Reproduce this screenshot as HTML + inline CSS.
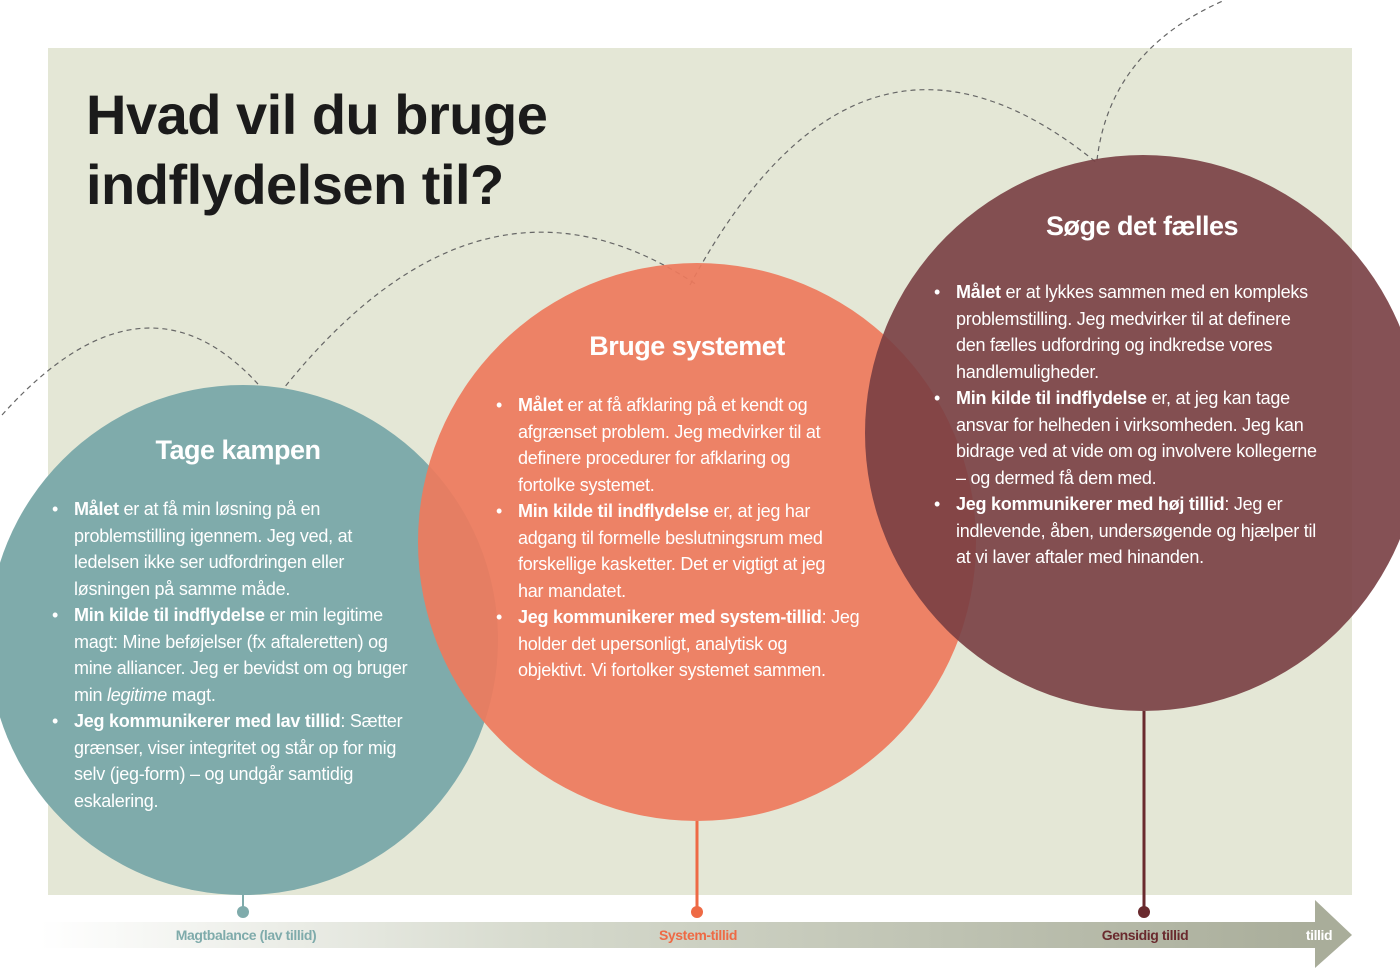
<!DOCTYPE html>
<html><head><meta charset="utf-8"><style>
body{margin:0;width:1400px;height:969px;background:#fff;position:relative;overflow:hidden;font-family:"Liberation Sans",sans-serif}
.bg{position:absolute;left:48px;top:48px;width:1304px;height:847px;background:#e4e7d6}
.c{position:absolute;border-radius:50%}
.t{position:absolute;color:#fff;font-size:18px;letter-spacing:-0.25px;white-space:nowrap;line-height:26.5px}
.t div{height:26.5px}
.t b{font-weight:bold}
.b{position:relative}
.b:before{content:"•";position:absolute;left:-22px}
.h{position:absolute;color:#fff;font-weight:bold;font-size:27px;letter-spacing:-0.5px;white-space:nowrap;transform:translateX(-50%)}
.title{position:absolute;left:86px;top:80px;font-size:56px;font-weight:bold;color:#1b1b1b;line-height:70px;letter-spacing:-0.5px}
.lbl{position:absolute;top:927px;font-size:14px;font-weight:bold;letter-spacing:-0.4px;transform:translateX(-50%)}
</style></head><body>
<div class="bg"></div>
<svg style="position:absolute;left:0;top:0" width="1400" height="969">
<g fill="none" stroke="#666" stroke-width="1.2" stroke-dasharray="5,4">
<path d="M2,415 Q150,250 270,398"/>
<path d="M280,393 Q480,140 697,285"/>
<path d="M690,285 Q860,-30 1097,163"/>
<path d="M1097,160 Q1110,50 1225,0"/>
</g>
<defs><linearGradient id="g" x1="0" x2="1"><stop offset="0" stop-color="#fff"/><stop offset="0.4" stop-color="#d5d9cc"/><stop offset="1" stop-color="#a9ad9a"/></linearGradient></defs>
<rect x="40" y="922" width="1280" height="26" fill="url(#g)"/>
<polygon points="1315,900 1352,935 1315,968" fill="#a9ad9a"/>
</svg>
<div class="c" style="left:-12px;top:385px;width:510px;height:510px;background:#7fabab"></div>
<div class="c" style="left:418px;top:263px;width:558px;height:558px;background:rgba(238,122,92,0.92)"></div>
<div class="c" style="left:865px;top:155px;width:556px;height:556px;background:rgba(120,62,66,0.9)"></div>
<svg style="position:absolute;left:0;top:0" width="1400" height="969">
<line x1="243" y1="895" x2="243" y2="912" stroke="#7fabab" stroke-width="2"/><circle cx="243" cy="912" r="6" fill="#7fabab"/>
<line x1="697" y1="821" x2="697" y2="912" stroke="#ee6a45" stroke-width="3"/><circle cx="697" cy="912" r="6" fill="#ee6a45"/>
<line x1="1144" y1="711" x2="1144" y2="912" stroke="#6a2a2e" stroke-width="3"/><circle cx="1144" cy="912" r="6" fill="#6a2a2e"/>
</svg>
<div class="title">Hvad vil du bruge<br>indflydelsen til?</div>
<div class="h" style="left:238px;top:435px">Tage kampen</div>
<div class="h" style="left:687px;top:331px">Bruge systemet</div>
<div class="h" style="left:1142px;top:211px">Søge det fælles</div>
<div class="t" style="left:74px;top:496px">
<div class="b"><b>Målet</b> er at få min løsning på en</div>
<div>problemstilling igennem. Jeg ved, at</div>
<div>ledelsen ikke ser udfordringen eller</div>
<div>løsningen på samme måde.</div>
<div class="b"><b>Min kilde til indflydelse</b> er min legitime</div>
<div>magt: Mine beføjelser (fx aftaleretten) og</div>
<div>mine alliancer. Jeg er bevidst om og bruger</div>
<div>min <i>legitime</i> magt.</div>
<div class="b"><b>Jeg kommunikerer med lav tillid</b>: Sætter</div>
<div>grænser, viser integritet og står op for mig</div>
<div>selv (jeg-form) – og undgår samtidig</div>
<div>eskalering.</div>
</div>
<div class="t" style="left:518px;top:392px">
<div class="b"><b>Målet</b> er at få afklaring på et kendt og</div>
<div>afgrænset problem. Jeg medvirker til at</div>
<div>definere procedurer for afklaring og</div>
<div>fortolke systemet.</div>
<div class="b"><b>Min kilde til indflydelse</b> er, at jeg har</div>
<div>adgang til formelle beslutningsrum med</div>
<div>forskellige kasketter. Det er vigtigt at jeg</div>
<div>har mandatet.</div>
<div class="b"><b>Jeg kommunikerer med system-tillid</b>: Jeg</div>
<div>holder det upersonligt, analytisk og</div>
<div>objektivt. Vi fortolker systemet sammen.</div>
</div>
<div class="t" style="left:956px;top:279px">
<div class="b"><b>Målet</b> er at lykkes sammen med en kompleks</div>
<div>problemstilling. Jeg medvirker til at definere</div>
<div>den fælles udfordring og indkredse vores</div>
<div>handlemuligheder.</div>
<div class="b"><b>Min kilde til indflydelse</b> er, at jeg kan tage</div>
<div>ansvar for helheden i virksomheden. Jeg kan</div>
<div>bidrage ved at vide om og involvere kollegerne</div>
<div>– og dermed få dem med.</div>
<div class="b"><b>Jeg kommunikerer med høj tillid</b>: Jeg er</div>
<div>indlevende, åben, undersøgende og hjælper til</div>
<div>at vi laver aftaler med hinanden.</div>
</div>
<div class="lbl" style="left:246px;color:#7fabab">Magtbalance (lav tillid)</div>
<div class="lbl" style="left:698px;color:#ee6a45">System-tillid</div>
<div class="lbl" style="left:1145px;color:#6a2a2e">Gensidig tillid</div>
<div class="lbl" style="left:1319px;color:#fff">tillid</div>
</body></html>
